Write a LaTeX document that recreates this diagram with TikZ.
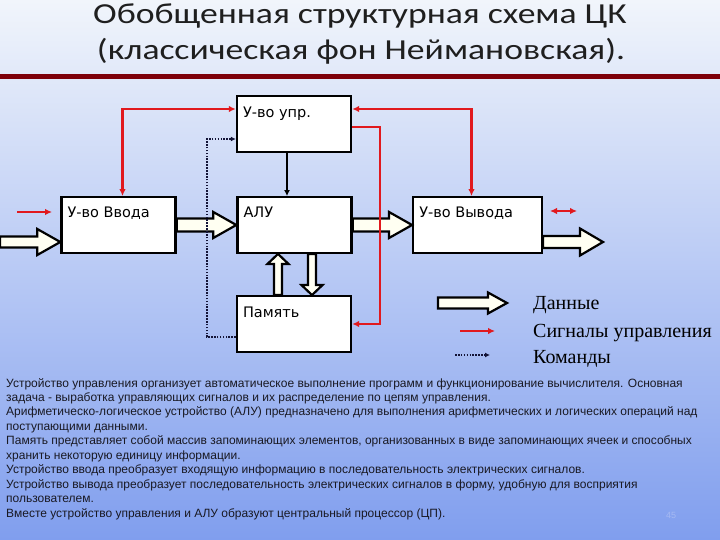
\documentclass[tikz,border=0pt]{standalone}
\usepackage{fontspec}
\setmainfont{Liberation Serif}
\newfontfamily\titlefont[FakeStretch=1.23]{Carlito}
\newfontfamily\boxfont{DejaVu Sans}
\newfontfamily\notefont{Liberation Sans}
\usepackage{tikz}
\usetikzlibrary{calc,arrows.meta}
\definecolor{ctrlred}{RGB}{225,25,30}
\definecolor{cmdblue}{RGB}{20,20,55}
\definecolor{rulered}{RGB}{125,0,10}
\definecolor{bgtop}{RGB}{241,245,251}
\definecolor{bgmid}{RGB}{198,212,245}
\definecolor{bgbot}{RGB}{128,158,238}
\definecolor{datafill}{RGB}{255,255,242}
\definecolor{notetext}{RGB}{25,25,35}
\definecolor{pagenum}{RGB}{165,185,242}

\begin{document}
\begin{tikzpicture}[x=1pt,y=-1pt]
\tikzstyle{every node}=[inner sep=0pt]
\tikzstyle{box}=[draw,line width=2.4pt,fill=white,minimum width=114pt,minimum height=55.5pt]
\tikzstyle{boxlabel}=[anchor=base west,font=\boxfont\fontsize{14.5}{16}\selectfont]
\tikzstyle{legtext}=[anchor=base west,font=\fontsize{20}{22}\selectfont]
\tikzstyle{titletext}=[anchor=base,font=\titlefont\fontsize{29}{35}\selectfont,text=black!88]
\tikzstyle{ctrl}=[ctrlred,line width=2.2pt,>={Latex[length=7pt,width=6.5pt]}]
\tikzstyle{cmd}=[cmdblue,dash pattern=on 1.6pt off 1.3pt,line width=2.2pt,>={Latex[length=5pt,width=5pt]}]
\tikzset{data/.style n args={3}{draw,line width=2.2pt,fill=datafill,to path={
  ($(\tikztostart)!#1!90:(\tikztotarget)$) --
  ($(\tikztotarget)!#3!(\tikztostart)!#1!-90:(\tikztostart)$) --
  ($(\tikztotarget)!#3!(\tikztostart)!#2!-90:(\tikztostart)$) --
  (\tikztotarget) --
  ($(\tikztotarget)!#3!(\tikztostart)!#2!90:(\tikztostart)$) --
  ($(\tikztotarget)!#3!(\tikztostart)!#1!90:(\tikztostart)$) --
  ($(\tikztostart)!#1!-90:(\tikztotarget)$) -- cycle}}}

%background
\useasboundingbox (0,0) rectangle (720,540);
\shade[top color=bgtop,middle color=bgmid,bottom color=bgbot] (0,0) rectangle (720,540);

%title
\node[titletext] (title1) at (360,24) {Обобщенная структурная схема ЦК};
\node[titletext] (title2) at (361,60) {(классическая фон Неймановская).};
\fill[rulered] (0,74) rectangle (720,79);

%blocks
\node[box] (upr) at (294,124) {};
\node[box] (vvod) at (118.5,225) {};
\node[box] (alu) at (294.5,225) {};
\node[box,minimum width=128.5pt] (vyvod) at (477.5,225) {};
\node[box] (pam) at (294,324) {};

\node[boxlabel] (upr-t) at ([xshift=7pt,yshift=-22pt]upr.north west) {У-во упр.};
\node[boxlabel] (vvod-t) at ([xshift=7pt,yshift=-21.5pt]vvod.north west) {У-во Ввода};
\node[boxlabel] (alu-t) at ([xshift=7pt,yshift=-21.5pt]alu.north west) {АЛУ};
\node[boxlabel] (vyvod-t) at ([xshift=7pt,yshift=-21.5pt]vyvod.north west) {У-во Вывода};
\node[boxlabel] (pam-t) at ([xshift=7pt,yshift=-22pt]pam.north west) {Память};

%data arrows
\coordinate (src) at (0,242);
\coordinate (sink) at (603,242);
\coordinate (pam-up) at ([xshift=-16pt]pam.north);
\coordinate (pam-dn) at ([xshift=18pt]pam.north);
\draw[data={5.5pt}{13pt}{23pt}] (src) to (src -| vvod.west);
\draw[data={6.5pt}{13pt}{23pt}] (vvod.east) to (alu.west);
\draw[data={6.5pt}{13pt}{23pt}] (alu.east) to (vyvod.west);
\draw[data={6pt}{13.5pt}{23pt}] (sink -| vyvod.east) to (sink);
\draw[data={4pt}{10.5pt}{10pt}] (pam-up) to (pam-up |- alu.south);
\draw[data={4pt}{10.5pt}{10pt}] (pam-dn |- alu.south) to (pam-dn);

%control signals
\draw[ctrl,<->] ([xshift=4pt]vvod.north) |- ([yshift=15pt]upr.west);
\draw[ctrl,<->] ([xshift=-6pt]vyvod.north) |- ([yshift=15pt]upr.east);
\draw[ctrl,->] ([yshift=-3pt]upr.east) -- ++(28,0) |- (pam.east);
\coordinate (in-s) at (17,212);
\coordinate (in-e) at (52,212);
\coordinate (out-s) at (550,211);
\coordinate (out-e) at (577,211);
\draw[ctrl,->] (in-s) -- (in-e);
\draw[ctrl,<->] (out-s) -- (out-e);

%commands
\draw[line width=2.5pt,-{Latex[length=6pt,width=6pt]}] ([xshift=-7pt]upr.south) -- ([xshift=-7pt]upr.south |- alu.north);
\draw[cmd,->] ([yshift=-13pt]pam.west) -- ++(-29,0) |- ([yshift=-15pt]upr.west);

%legend
\coordinate (leg-d) at (438,303);
\coordinate (leg-d-e) at (507,303);
\coordinate (leg-c) at (460,331);
\coordinate (leg-c-e) at (495,331);
\coordinate (leg-k) at (455,355);
\coordinate (leg-k-e) at (490,355);
\draw[data={5.5pt}{10.5pt}{19pt}] (leg-d) to (leg-d-e);
\draw[ctrl,->] (leg-c) -- (leg-c-e);
\draw[cmd,->] (leg-k) -- (leg-k-e);
\node[legtext] (leg-d-t) at (533,309) {Данные};
\node[legtext] (leg-c-t) at (533,337) {Сигналы управления};
\node[legtext] (leg-k-t) at (533,363) {Команды};

%notes
\node[anchor=north west,align=left,text=notetext,font=\notefont\fontsize{12}{14.44}\selectfont] (notes) at (6,378) {Устройство управления организует автоматическое выполнение программ и функционирование вычислителя. Основная\\
задача - выработка управляющих сигналов и их распределение по цепям управления.\\
Арифметическо-логическое устройство (АЛУ) предназначено для выполнения арифметических и логических операций над\\
поступающими данными.\\
Память представляет собой массив запоминающих элементов, организованных в виде запоминающих ячеек и способных\\
хранить некоторую единицу информации.\\
Устройство ввода преобразует входящую информацию в последовательность электрических сигналов.\\
Устройство вывода преобразует последовательность электрических сигналов в форму, удобную для восприятия\\
пользователем.\\
Вместе устройство управления и АЛУ образуют центральный процессор (ЦП).};
\node[font=\notefont\fontsize{9}{9}\selectfont,text=pagenum] (pg) at (671,515) {45};
\end{tikzpicture}
\end{document}
